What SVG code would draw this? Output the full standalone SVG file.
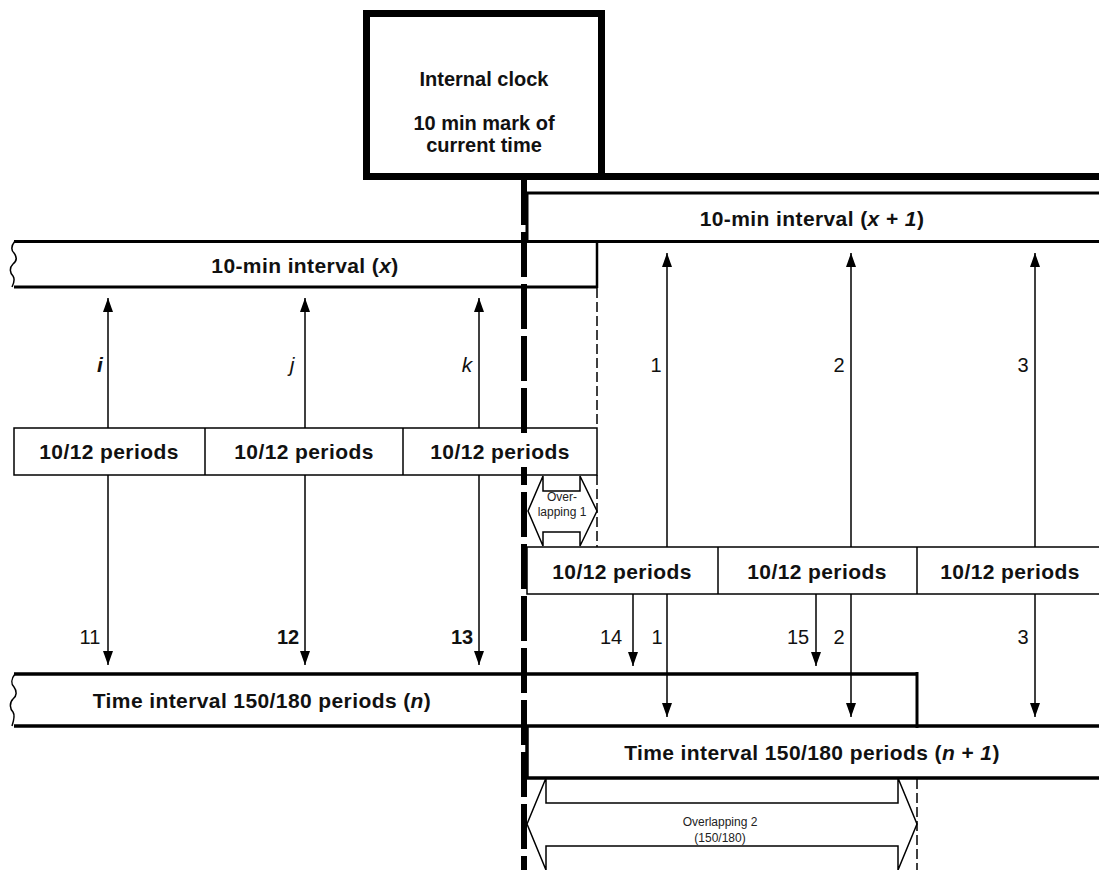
<svg xmlns="http://www.w3.org/2000/svg" width="1099" height="870" viewBox="0 0 1099 870">
<style>
.bg{fill:#fff}
.thick{fill:none;stroke:#000;stroke-width:3}
.thin{fill:none;stroke:#000;stroke-width:1.5}
.arr{stroke:#000;stroke-width:1.5;marker-end:url(#ah)}
.dash{fill:none;stroke:#000;stroke-width:1.5;stroke-dasharray:10,4}
.big{font-family:"Liberation Sans",Arial,sans-serif;font-weight:bold;font-size:21px;letter-spacing:0.4px;text-anchor:middle;fill:#111}
.clk{font-family:"Liberation Sans",Arial,sans-serif;font-weight:bold;font-size:20px;text-anchor:middle;fill:#111}
.num{font-family:"Liberation Sans",Arial,sans-serif;font-size:20px;text-anchor:middle;fill:#111}
.lbl{font-family:"Liberation Sans",Arial,sans-serif;font-style:italic;font-size:21px;text-anchor:middle;fill:#111}
.small{font-family:"Liberation Sans",Arial,sans-serif;font-size:12px;text-anchor:middle;fill:#222}
</style>
<defs>
<marker id="ah" viewBox="0 0 14 10" markerWidth="14" markerHeight="10" refX="14" refY="5" orient="auto" markerUnits="userSpaceOnUse">
<path d="M0,0 L14,5 L0,10 z" fill="#000"/>
</marker>
</defs>
<rect class="bg" x="0" y="0" width="1099" height="870"/>

<g id="timeline">
<line x1="524" y1="180" x2="524" y2="870" stroke="#000" stroke-width="6" stroke-dasharray="45,7"/>
</g>

<g id="clock">
<rect x="366.5" y="13.5" width="235" height="163" fill="#fff" stroke="#000" stroke-width="7"/>
<line x1="598" y1="176.5" x2="1099" y2="176.5" stroke="#000" stroke-width="7"/>
<text class="clk" x="484" y="86">Internal clock</text>
<text class="clk" x="484" y="130">10 min mark of</text>
<text class="clk" x="484" y="152">current time</text>
</g>

<g id="interval-x1">
<polyline class="thick" points="527,241 527,193 1099,193"/>
<text class="big" x="812" y="226">10-min interval (<tspan font-style="italic">x</tspan> + <tspan font-style="italic">1</tspan>)</text>
</g>

<g id="interval-x">
<line class="thick" x1="14" y1="241.5" x2="1099" y2="241.5"/>
<line class="thick" x1="14" y1="287" x2="597" y2="287"/>
<line x1="597" y1="241" x2="597" y2="288" stroke="#000" stroke-width="2.5"/>
<path class="thin" d="M15,241 c-4,5 -4,9 -1,12 c3,4 3,8 -1,11 c-4,4 -3,9 0,12 c2,3 1,7 -1,11" stroke-width="2"/>
<text class="big" x="305" y="273">10-min interval (<tspan font-style="italic">x</tspan>)</text>
</g>

<g id="periods-row1">
<rect class="thin" x="14" y="428" width="583" height="47"/>
<line class="thin" x1="205" y1="428" x2="205" y2="475"/>
<line class="thin" x1="403" y1="428" x2="403" y2="475"/>
<rect x="428" y="436" width="146" height="31" fill="#fff"/>
<text class="big" x="109" y="459">10/12 periods</text>
<text class="big" x="304" y="459">10/12 periods</text>
<text class="big" x="500" y="459">10/12 periods</text>
</g>

<g id="overlapping1">
<path class="thin" fill="#fff" d="M528,511 L543,476 L543,491 L580,491 L580,476 L597,511 L580,546 L580,532 L543,532 L543,546 Z"/>
<text class="small" x="562" y="501">Over-</text>
<text class="small" x="562" y="516">lapping 1</text>
</g>

<g id="periods-row2">
<rect class="thin" x="527" y="547" width="580" height="47"/>
<line class="thin" x1="718" y1="547" x2="718" y2="594"/>
<line class="thin" x1="917" y1="547" x2="917" y2="594"/>
<text class="big" x="622" y="579">10/12 periods</text>
<text class="big" x="817" y="579">10/12 periods</text>
<text class="big" x="1010" y="579">10/12 periods</text>
</g>

<g id="time-n">
<line x1="14" y1="674" x2="917" y2="674" stroke="#000" stroke-width="3.5"/>
<line x1="14" y1="726" x2="1099" y2="726" stroke="#000" stroke-width="3.5"/>
<line x1="917" y1="672" x2="917" y2="728" stroke="#000" stroke-width="3"/>
<path class="thin" d="M15,674 c-4,5 -4,10 -1,13 c3,4 3,9 -1,12 c-4,4 -3,10 0,13 c2,3 1,8 -1,14" stroke-width="2"/>
<text class="big" x="262" y="708">Time interval 150/180 periods (<tspan font-style="italic">n</tspan>)</text>
</g>

<g id="time-n1">
<polyline points="527,726 527,778 1099,778" fill="none" stroke="#000" stroke-width="3.5"/>
<text class="big" x="812" y="760">Time interval 150/180 periods (<tspan font-style="italic">n</tspan> + <tspan font-style="italic">1</tspan>)</text>
</g>

<g id="overlapping2">
<path class="thin" fill="#fff" d="M527,824 L546,778 L546,803 L898,803 L898,778 L917,824 L898,870 L898,846 L546,846 L546,870 Z"/>
<text class="small" x="720" y="826">Overlapping 2</text>
<text class="small" x="720" y="842">(150/180)</text>
</g>

<g id="connectors">
<line class="dash" x1="597" y1="288" x2="597" y2="428"/>
<line class="dash" x1="597" y1="475" x2="597" y2="547"/>
<line class="dash" x1="917" y1="779" x2="917" y2="870"/>

<line class="arr" x1="108" y1="428" x2="108" y2="298"/>
<line class="arr" x1="305" y1="428" x2="305" y2="298"/>
<line class="arr" x1="479" y1="428" x2="479" y2="298"/>
<line class="arr" x1="108" y1="475" x2="108" y2="665"/>
<line class="arr" x1="305" y1="475" x2="305" y2="665"/>
<line class="arr" x1="479" y1="475" x2="479" y2="665"/>

<line class="arr" x1="667" y1="547" x2="667" y2="253"/>
<line class="arr" x1="851" y1="547" x2="851" y2="253"/>
<line class="arr" x1="1035" y1="547" x2="1035" y2="253"/>
<line class="arr" x1="633" y1="594" x2="633" y2="666"/>
<line class="arr" x1="816" y1="594" x2="816" y2="666"/>
<line class="arr" x1="667" y1="594" x2="667" y2="717"/>
<line class="arr" x1="851" y1="594" x2="851" y2="717"/>
<line class="arr" x1="1035" y1="594" x2="1035" y2="717"/>

<text class="lbl" x="100" y="372" font-weight="bold">i</text>
<text class="lbl" x="292" y="372">j</text>
<text class="lbl" x="467" y="372">k</text>
<text class="num" x="656" y="372">1</text>
<text class="num" x="839" y="372">2</text>
<text class="num" x="1023" y="372">3</text>
<text class="num" x="90" y="644">11</text>
<text class="num" x="288" y="644" font-weight="bold">12</text>
<text class="num" x="462" y="644" font-weight="bold">13</text>
<text class="num" x="611" y="644">14</text>
<text class="num" x="657" y="644">1</text>
<text class="num" x="798" y="644">15</text>
<text class="num" x="839" y="644">2</text>
<text class="num" x="1023" y="644">3</text>
</g>
</svg>
